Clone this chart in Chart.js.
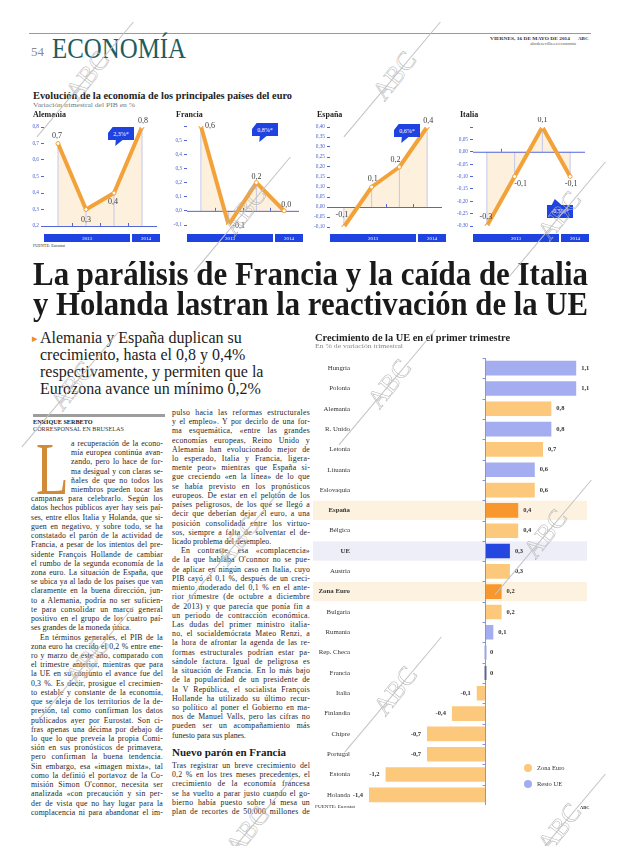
<!DOCTYPE html>
<html lang="es">
<head>
<meta charset="utf-8">
<title>ABC Economía</title>
<script src="https://cdn.jsdelivr.net/npm/chart.js@4.4.1/dist/chart.umd.min.js"></script>
<style>
  html, body { margin: 0; padding: 0; background: #fff; }
  #page { position: relative; width: 620px; height: 846px; overflow: hidden; background: #fff;
          font-family: "Liberation Serif", serif; color: #222; }
  .t { position: absolute; white-space: nowrap; line-height: 1; transform-origin: 0 0; }
  canvas { position: absolute; }
  .band { position: absolute; background: #1f43e0; color: #fff; font: 5px "Liberation Serif", serif;
          display: flex; align-items: center; justify-content: center; }
  .badge { position: absolute; background: #1f43e0; color: #fff; font: 6px "Liberation Serif", serif;
           display: flex; justify-content: center; box-sizing: border-box; }
  .dot { position: absolute; width: 8px; height: 8px; border-radius: 50%; }
  .rule { position: absolute; }
  .wm { position: absolute; width: 0; height: 0; pointer-events: none; z-index: 5; }
  .wm span { position: absolute; left: -24px; top: -14px; font: 26px "Liberation Serif", serif; color: transparent;
             -webkit-text-stroke: 0.5px #b4b4b4; transform: rotate(-52deg); white-space: nowrap; }
  .wm i { position: absolute; left: -75px; top: 4px; width: 150px; height: 0.6px; background: #c2c2c2;
          transform: rotate(-50deg); }
</style>
</head>
<body>
<div id="page">
  <canvas id="cAlemania" width="137" height="119" style="left:24px;top:117px"></canvas>
  <canvas id="cFrancia" width="136" height="119" style="left:167px;top:116px"></canvas>
  <canvas id="cEspana" width="136" height="120" style="left:310px;top:117px"></canvas>
  <canvas id="cItalia" width="136" height="119" style="left:453px;top:117px"></canvas>
  <canvas id="cUE" width="278" height="448" style="left:312px;top:357px"></canvas>
</div>
<script>
// ---- data: top line charts ----
const quarters = ['II', 'III', 'IV', 'I'];
const years = ['2013', '2014'];
const alemaniaValues = [0.7, 0.3, 0.4, 0.8];
const franciaValues = [0.6, -0.1, 0.2, 0.0];
const espanaValues = [-0.1, 0.1, 0.2, 0.4];
const italiaValues = [-0.3, -0.1, 0.1, -0.1];
const annualChange = ['2,3%*', '0,8%*', '0,6%*', '-0,5%*'];

// ---- data: UE bar chart ----
const countries = ['Hungría', 'Polonia', 'Alemania', 'R. Unido', 'Letonia', 'Lituania', 'Eslovaquia',
  'España', 'Bélgica', 'UE', 'Austria', 'Zona Euro', 'Bulgaria', 'Rumania', 'Rep. Checa', 'Francia',
  'Italia', 'Finlandia', 'Chipre', 'Portugal', 'Estonia', 'Holanda'];
const growth = [1.1, 1.1, 0.8, 0.8, 0.7, 0.6, 0.6, 0.4, 0.4, 0.3, 0.3, 0.2, 0.2, 0.1, 0, 0,
  -0.1, -0.4, -0.7, -0.7, -1.2, -1.4];
const zones = ['Resto UE', 'Resto UE', 'Zona Euro', 'Resto UE', 'Zona Euro', 'Resto UE', 'Zona Euro',
  'Zona Euro', 'Zona Euro', 'UE', 'Zona Euro', 'Zona Euro', 'Zona Euro', 'Resto UE', 'Resto UE', 'Zona Euro',
  'Zona Euro', 'Zona Euro', 'Zona Euro', 'Zona Euro', 'Zona Euro', 'Zona Euro'];
const highlighted = ['España', 'UE', 'Zona Euro'];
const legendItems = ['Zona Euro', 'Resto UE'];

const ORANGE = '#f3a23a';
const FILL = '#fdf0dc';
const AXIS = '#5366d6';
const EURO = '#fcc87c';
const RESTO = '#a3adf0';
const EURO_HI = '#f7972d';
const UE_HI = '#2447e0';

Chart.defaults.font.family = '"Liberation Serif", serif';

const page = document.getElementById('page');

function put(text, x, base, size, opt = {}) {
  const d = document.createElement('div');
  d.className = 't';
  d.textContent = text;
  d.style.fontSize = size + 'px';
  d.style.left = x + 'px';
  d.style.top = (base - 0.84 * size) + 'px';
  if (opt.bold) d.style.fontWeight = 'bold';
  if (opt.color) d.style.color = opt.color;
  page.appendChild(d);
  const w = d.getBoundingClientRect().width;
  if (opt.fit) d.style.transform = 'scaleX(' + (opt.fit / w) + ')';
  if (opt.right) d.style.left = (x - w) + 'px';
  return d;
}

function box(cls, x, y, w, h, bg) {
  const d = document.createElement('div');
  d.className = cls;
  d.style.left = x + 'px';
  d.style.top = y + 'px';
  d.style.width = w + 'px';
  d.style.height = h + 'px';
  if (bg) d.style.background = bg;
  page.appendChild(d);
  return d;
}

function fmt(v, dec) {
  return (Math.round(v * 1000) / 1000).toFixed(dec).replace('.', ',');
}

/* HEADER */
box('rule', 29, 33, 562, 1, '#9a9a9a');
put('54', 31, 56, 13, { color: '#8a8a8a' });
put('ECONOMÍA', 52, 58, 29, { color: '#1f5d5e', fit: 134 });
put('VIERNES, 16 DE MAYO DE 2014', 490, 40, 5, { bold: true, color: '#333', fit: 80 });
put('ABC', 578, 40, 5, { bold: true, color: '#333' });
put('abcdesevilla.es/economia', 576, 46, 4.5, { color: '#555', right: true });

/* TOP CHARTS TEXT */
put('Evolución de la economía de los principales países del euro', 33, 100, 10.5, { bold: true, fit: 259 });
put('Variación trimestral del PIB en %', 33, 107, 6.5, { color: '#777', fit: 102 });
put('Alemania', 33, 117.5, 8, { bold: true });
put('Francia', 176, 117.5, 8, { bold: true });
put('España', 317, 117.5, 8, { bold: true });
put('Italia', 460, 117.5, 8, { bold: true });
put('FUENTE: Eurostat', 33, 248, 4.5, { color: '#333', fit: 32 });

/* SMALL LINE CHARTS */
const dropLines = {
  id: 'dropLines',
  beforeDatasetDraw(chart) {
    const { ctx, chartArea: a, scales: { y } } = chart;
    const base = y.min > 0 ? a.bottom : y.getPixelForValue(0);
    const pts = chart.getDatasetMeta(0).data;
    ctx.save();
    ctx.lineWidth = 1;
    ctx.strokeStyle = '#c3c8ea';
    pts.forEach(p => {
      ctx.beginPath();
      ctx.moveTo(p.x, base);
      ctx.lineTo(p.x, p.y);
      ctx.stroke();
    });
    ctx.strokeStyle = AXIS;
    ctx.beginPath();
    ctx.moveTo(a.left, base + 0.5);
    ctx.lineTo(a.right + 1, base + 0.5);
    ctx.stroke();
    const step = (a.right - a.left) / quarters.length;
    for (let k = 1; k < quarters.length; k++) {
      const xx = Math.round(a.left + k * step) + 0.5;
      ctx.beginPath();
      ctx.moveTo(xx, base);
      ctx.lineTo(xx, base - 3);
      ctx.stroke();
    }
    ctx.restore();
  }
};

const pointLabels = {
  id: 'pointLabels',
  afterDatasetsDraw(chart, args, opts) {
    const { ctx } = chart;
    const vals = chart.data.datasets[0].data;
    const pts = chart.getDatasetMeta(0).data;
    ctx.save();
    ctx.font = '8px "Liberation Serif"';
    ctx.fillStyle = '#3b3b3b';
    ctx.textAlign = 'center';
    ctx.textBaseline = 'middle';
    pts.forEach((p, i) => {
      const [dx, dy] = opts.offsets[i];
      ctx.fillText(fmt(vals[i], 1), p.x + dx, p.y + dy);
    });
    ctx.restore();
  }
};

function smallChart(id, values, cfg) {
  return new Chart(document.getElementById(id), {
    type: 'line',
    data: {
      labels: quarters,
      datasets: [{
        data: values,
        borderColor: ORANGE,
        borderWidth: 4,
        borderJoinStyle: 'round',
        fill: cfg.fill,
        backgroundColor: FILL,
        pointRadius: 2,
        pointBackgroundColor: '#fff',
        pointBorderColor: ORANGE,
        pointBorderWidth: 1,
        tension: 0
      }]
    },
    options: {
      responsive: false,
      animation: false,
      layout: { padding: { top: 10, right: 0, bottom: 0, left: 0 } },
      plugins: {
        legend: { display: false },
        tooltip: { enabled: false },
        pointLabels: { offsets: cfg.offsets }
      },
      scales: {
        x: {
          offset: true,
          grid: { display: false },
          border: { display: false },
          ticks: { font: { size: 5 }, color: '#666', padding: 2 },
          afterFit: s => { s.height = 10; }
        },
        y: {
          min: cfg.min,
          max: cfg.max,
          ticks: {
            stepSize: cfg.step,
            font: { size: 5.3 },
            color: '#4a5fd0',
            padding: 2,
            callback: v => (v > cfg.labelMax + 1e-9 ? '' : fmt(v, cfg.dec))
          },
          grid: { drawOnChartArea: false, tickLength: 3, color: AXIS },
          border: { display: false },
          afterFit: s => { s.width = 20; }
        }
      }
    },
    plugins: [dropLines, pointLabels]
  });
}

smallChart('cAlemania', alemaniaValues, {
  min: 0.2, max: 0.8, step: 0.1, dec: 1, labelMax: 0.8, fill: 'start',
  offsets: [[-1, -8], [0, 10], [-1, 9], [1, -6]]
});
smallChart('cFrancia', franciaValues, {
  min: -0.1, max: 0.6, step: 0.1, dec: 1, labelMax: 0.5, fill: 'origin',
  offsets: [[9, 0], [10, 1], [0, -6], [2, -6]]
});
smallChart('cEspana', espanaValues, {
  min: -0.1, max: 0.4, step: 0.05, dec: 2, labelMax: 0.4, fill: 'origin',
  offsets: [[-2, -12], [1, -8], [-4, -7], [1, -6]]
});
smallChart('cItalia', italiaValues, {
  min: -0.3, max: 0.1, step: 0.05, dec: 2, labelMax: 0.05, fill: 'origin',
  offsets: [[-1, -9], [6, 7], [0, -7], [1, 7]]
});

/* YEAR BANDS + BADGES */
const bandLefts = [44, 187, 330, 473];
bandLefts.forEach(x0 => {
  const q = 29;
  box('band', x0, 234, 3 * q - 1, 8).textContent = years[0];
  box('band', x0 + 3 * q + 1, 234, q - 1, 8).textContent = years[1];
});

const badgeUp = 'polygon(18% 0, 100% 0, 100% 68%, 56% 68%, 28% 100%, 30% 68%, 0 68%, 0 32%)';
const badgeDown = 'polygon(30% 0, 56% 32%, 100% 32%, 100% 100%, 0 100%, 0 32%, 18% 32%)';
const badges = [[108, 127, badgeUp], [252, 123, badgeUp], [394, 124, badgeUp], [547, 199, badgeDown]];
badges.forEach(([x, y, shape], i) => {
  const b = box('badge', x, y, 26, 19);
  b.style.clipPath = shape;
  b.style.alignItems = shape === badgeUp ? 'flex-start' : 'flex-end';
  b.style.paddingTop = shape === badgeUp ? '4px' : '0';
  b.style.paddingBottom = shape === badgeUp ? '0' : '4px';
  b.textContent = annualChange[i];
});

/* HEADLINE */
put('La parálisis de Francia y la caída de Italia', 33, 286, 34, { bold: true, color: '#1a1a1a', fit: 555 });
put('y Holanda lastran la reactivación de la UE', 33, 315.5, 34, { bold: true, color: '#1a1a1a', fit: 555 });

/* SUBHEAD */
put('▸', 32, 342, 11, { color: '#f08a24' });
['Alemania y España duplican su', 'crecimiento, hasta el 0,8 y 0,4%',
 'respectivamente, y permiten que la', 'Eurozona avance un mínimo 0,2%']
  .forEach((s, i) => put(s, 40, 343 + i * 17, 16, { color: '#1c1c1c' }));

/* BYLINE */
box('rule', 33, 414, 132, 3, '#9d9d9d');
put('ENRIQUE SERBETO', 33, 424, 6.2, { bold: true, color: '#222' });
put('CORRESPONSAL EN BRUSELAS', 33, 431, 6.2, { color: '#333' });

/* BODY TEXT */
const leftLines = [
  'a recuperación de la econo-', 'mía europea continúa avan-', 'zando, pero lo hace de for-',
  'ma desigual y con claras se-', 'ñales de que no todos los', 'miembros pueden tocar las',
  'campanas para celebrarlo. Según los', 'datos hechos públicos ayer hay seis paí-',
  'ses, entre ellos Italia y Holanda, que si-', 'guen en negativo, y sobre todo, se ha',
  'constatado el parón de la actividad de', 'Francia, a pesar de los intentos del pre-',
  'sidente François Hollande de cambiar', 'el rumbo de la segunda economía de la',
  'zona euro. La situación de España, que', 'se ubica ya al lado de los países que van',
  'claramente en la buena dirección, jun-', 'to a Alemania, podría no ser suficien-',
  'te para consolidar un marco general', 'positivo en el grupo de los cuatro paí-',
  'ses grandes de la moneda única.¶', '  En términos generales, el PIB de la',
  'zona euro ha crecido el 0,2 % entre ene-', 'ro y marzo de este año, comparado con',
  'el trimestre anterior, mientras que para', 'la UE en su conjunto el avance fue del',
  '0,3 %. Es decir, prosigue el crecimien-', 'to estable y constante de la economía,',
  'que se aleja de los territorios de la de-', 'presión, tal como confirman los datos',
  'publicados ayer por Eurostat. Son ci-', 'fras apenas una décima por debajo de',
  'lo que lo que preveía la propia Comi-', 'sión en sus pronósticos de primavera,',
  'pero confirman la buena tendencia.', 'Sin embargo, esa «imagen mixta», tal',
  'como la definió el portavoz de la Co-', 'misión Simon O\'connor, necesita ser',
  'analizada «con precaución y sin per-', 'der de vista que no hay lugar para la',
  'complacencia ni para abandonar el im-'
];
const midLines = [
  'pulso hacia las reformas estructurales', 'y el empleo». Y por decirlo de una for-',
  'ma esquemática, «entre las grandes', 'economías europeas, Reino Unido y',
  'Alemania han evolucionado mejor de', 'lo esperado, Italia y Francia, ligera-',
  'mente peor» mientras que España si-', 'gue creciendo «en la línea» de lo que',
  'se había previsto en los pronósticos', 'europeos. De estar en el pelotón de los',
  'países peligrosos, de los que se llegó a', 'decir que deberían dejar el euro, a una',
  'posición consolidada entre los virtuo-', 'sos, siempre a falta de solventar el de-',
  'licado problema del desempleo.¶', '  En contraste, esa «complacencia»',
  'de la que hablaba O\'connor no se pue-', 'de aplicar en ningún caso en Italia, cuyo',
  'PIB cayó el 0,1 %, después de un creci-', 'miento moderado del 0,1 % en el ante-',
  'rior trimestre (de octubre a diciembre', 'de 2013) y que parecía que ponía fin a',
  'un periodo de contracción económica.', 'Las dudas del primer ministro italia-',
  'no, el socialdemócrata Mateo Renzi, a', 'la hora de afrontar la agenda de las re-',
  'formas estructurales podrían estar pa-', 'sándole factura. Igual de peligrosa es',
  'la situación de Francia. En lo más bajo', 'de la popularidad de un presidente de',
  'la V República, el socialista François', 'Hollande ha utilizado su último recur-',
  'so político al poner el Gobierno en ma-', 'nos de Manuel Valls, pero las cifras no',
  'pueden ser un acompañamiento más', 'funesto para sus planes.¶'
];
const francLines = [
  'Tras registrar un breve crecimiento del', '0,2 % en los tres meses precedentes, el',
  'crecimiento de la economía francesa', 'se ha vuelto a parar justo cuando el go-',
  'bierno había puesto sobre la mesa un', 'plan de recortes de 50.000 millones de'
];

// justify each line: part of the slack goes to letters, the rest to word gaps
function column(lines, x, width, base0, step, dropCount, dropIndent) {
  lines.forEach((raw, i) => {
    let s = raw, indent = 0, last = false;
    if (s.startsWith('  ')) { indent = 9; s = s.trim(); }
    if (s.endsWith('¶')) { last = true; s = s.slice(0, -1); }
    if (i < dropCount) indent = dropIndent;
    const d = put(s, x + indent, base0 + i * step, 7.8, { color: '#1e1e1e' });
    const target = width - indent;
    let w = d.getBoundingClientRect().width;
    const gaps = (s.match(/ /g) || []).length;
    if (last && w <= target) return;
    let slack = target - w;
    if (slack > 0) {
      const ls = Math.min(0.25, (slack * 0.45) / s.length);
      d.style.letterSpacing = ls + 'px';
      w = d.getBoundingClientRect().width;
      slack = target - w;
    }
    if (gaps) d.style.wordSpacing = (slack / gaps) + 'px';
  });
}

const drop = put('L', 36, 494, 74, { color: '#d08a38' });
drop.style.transform = 'scaleX(0.72)';
column(leftLines, 31, 132, 446.5, 9.22, 6, 40);
column(midLines, 172, 138, 415.5, 9.22, 0, 0);
put('Nuevo parón en Francia', 172, 756, 11, { bold: true, color: '#1a1a1a' });
column(francLines, 172, 138, 768.5, 9.22, 0, 0);

/* UE BAR CHART */
put('Crecimiento de la UE en el primer trimestre', 315, 341, 10, { bold: true, fit: 195 });
put('En % de variación trimestral', 315, 348, 6, { color: '#888', fit: 88 });

function barColor(i) {
  if (zones[i] === 'UE') return UE_HI;
  const hi = highlighted.includes(countries[i]);
  if (zones[i] === 'Zona Euro') return hi ? EURO_HI : EURO;
  return RESTO;
}

const rowBands = {
  id: 'rowBands',
  beforeDraw(chart) {
    const { ctx, scales: { y } } = chart;
    const h = (y.bottom - y.top) / countries.length;
    ctx.save();
    countries.forEach((c, i) => {
      if (!highlighted.includes(c)) return;
      ctx.fillStyle = zones[i] === 'UE' ? '#eeeef8' : '#fdf2e0';
      ctx.fillRect(1, y.getPixelForValue(i) - h / 2 + 0.5, chart.width - 4, h - 1);
    });
    ctx.restore();
  }
};

const zeroAxis = {
  id: 'zeroAxis',
  afterDatasetsDraw(chart) {
    const { ctx, chartArea: a, scales: { x, y } } = chart;
    const x0 = Math.round(x.getPixelForValue(0)) + 0.5;
    const h = (a.bottom - a.top) / countries.length;
    ctx.save();
    ctx.strokeStyle = '#8893dd';
    ctx.lineWidth = 1;
    ctx.beginPath();
    ctx.moveTo(x0, a.top);
    ctx.lineTo(x0, a.bottom);
    ctx.stroke();
    for (let k = 0; k <= countries.length; k++) {
      const yy = Math.round(a.top + k * h) + 0.5;
      ctx.beginPath();
      ctx.moveTo(x0 - 3, yy);
      ctx.lineTo(x0, yy);
      ctx.stroke();
    }
    growth.forEach((v, i) => {
      if (v !== 0) return;
      const yc = y.getPixelForValue(i);
      ctx.strokeStyle = zones[i] === 'Zona Euro' ? '#5d668f' : '#9aa3e6';
      ctx.lineWidth = 2;
      ctx.beginPath();
      ctx.moveTo(x0, yc - 7);
      ctx.lineTo(x0, yc + 7);
      ctx.stroke();
    });
    ctx.restore();
  }
};

const barLabels = {
  id: 'barLabels',
  afterDatasetsDraw(chart) {
    const { ctx, scales: { x, y } } = chart;
    const x0 = x.getPixelForValue(0);
    ctx.save();
    ctx.font = 'bold 6.5px "Liberation Serif"';
    ctx.fillStyle = '#333';
    ctx.textBaseline = 'middle';
    growth.forEach((v, i) => {
      const yc = y.getPixelForValue(i);
      const txt = v === 0 ? '0' : fmt(v, 1);
      if (v >= 0) {
        ctx.textAlign = 'left';
        ctx.fillText(txt, (v === 0 ? x0 : x.getPixelForValue(v)) + 5, yc);
      } else {
        ctx.textAlign = 'right';
        ctx.fillText(txt, x.getPixelForValue(v) - 6, yc);
      }
    });
    ctx.restore();
  }
};

new Chart(document.getElementById('cUE'), {
  type: 'bar',
  data: {
    labels: countries,
    datasets: [{
      data: growth,
      backgroundColor: growth.map((v, i) => barColor(i)),
      barPercentage: 0.72,
      categoryPercentage: 1
    }]
  },
  options: {
    indexAxis: 'y',
    responsive: false,
    animation: false,
    layout: { padding: { top: 1, right: 5.5, bottom: 0, left: 0 } },
    plugins: { legend: { display: false }, tooltip: { enabled: false } },
    scales: {
      x: { min: -1.4, max: 1.2, display: false },
      y: {
        grid: { display: false, drawTicks: false },
        border: { display: false },
        ticks: {
          padding: 19,
          color: '#333',
          font: ctx => ({
            size: 6.8,
            weight: highlighted.includes(countries[ctx.index]) ? 'bold' : 'normal'
          })
        },
        afterFit: s => {
          s.width = 57;
          s.paddingTop = 0;
          s.paddingBottom = 0;
        }
      }
    }
  },
  plugins: [rowBands, zeroAxis, barLabels]
});

/* LEGEND + SOURCE */
[EURO, RESTO].forEach((c, i) => {
  box('dot', 524, 764 + i * 16, 8, 8, c);
  put(legendItems[i], 537, 770.5 + i * 16, 6.5, { color: '#333' });
});
put('FUENTE: Eurostat', 315, 809, 4.5, { color: '#333', fit: 40 });
put('ABC', 580, 810, 4.5, { bold: true, color: '#333' });

/* WATERMARKS */
const marks = [[85, 75], [392, 75], [242, 210], [557, 215], [70, 385], [387, 383],
  [235, 540], [543, 533], [85, 660], [393, 690], [245, 830], [557, 827]];
marks.forEach(([x, y]) => {
  const w = document.createElement('div');
  w.className = 'wm';
  w.style.left = x + 'px';
  w.style.top = y + 'px';
  w.innerHTML = '<span>ABC</span><i></i>';
  page.appendChild(w);
});
</script>
</body>
</html>
